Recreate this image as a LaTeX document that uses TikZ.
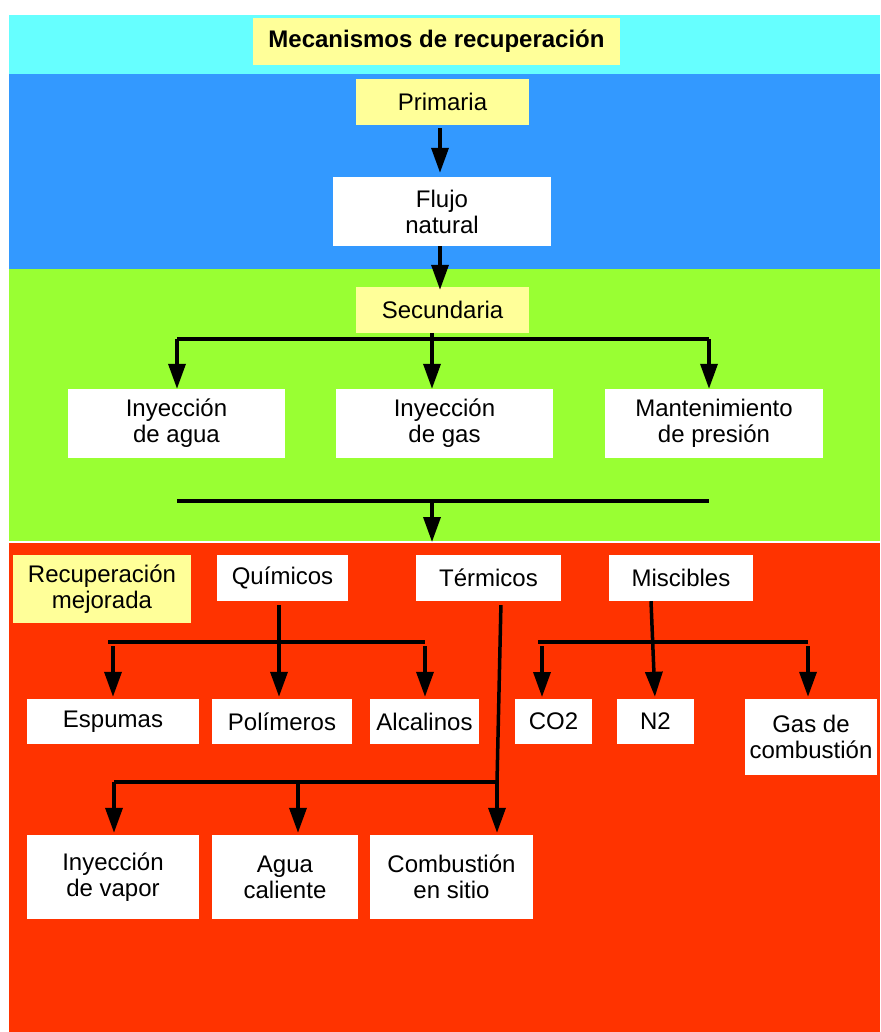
\documentclass[tikz,border=0pt]{standalone}
\usepackage{fontspec}
\setmainfont{Liberation Sans}
\usetikzlibrary{arrows.meta}
\definecolor{bandcyan}{HTML}{66FFFF}
\definecolor{bandblue}{HTML}{3399FF}
\definecolor{bandgreen}{HTML}{99FF33}
\definecolor{bandred}{HTML}{FF3300}
\definecolor{tagyellow}{HTML}{FFFF99}
\begin{document}
\begin{tikzpicture}[x=1pt,y=-1pt,
  box/.style={fill=white, inner sep=0pt, align=center,
    font=\fontsize{24}{26}\selectfont},
  tag/.style={box, fill=tagyellow},
  arr/.style={line width=3.5pt, -{Triangle[length=25pt,width=17pt]}},
  bar/.style={line width=3.5pt}]
% page and colour bands
\fill[white] (0,0) rectangle (880,1032);
\useasboundingbox (0,0) rectangle (880,1032);
\fill[bandcyan]  (9,15)  rectangle (880,74);
\fill[bandblue]  (9,74)  rectangle (880,268.5);
\fill[bandgreen] (9,268.5) rectangle (880,541);
\fill[bandred]   (9,543) rectangle (880,1032);

% title and primary recovery
\node[tag, minimum width=367, minimum height=47, font=\fontsize{24}{26}\selectfont\bfseries]
  (title) at (436.5,41.5) {Mecanismos de recuperación};
\node[tag, minimum width=173, minimum height=46] (prim) at (442.5,102) {Primaria};
\node[box, minimum width=218, minimum height=69] (flujo) at (442,211.5) {Flujo\\natural};

% secondary recovery
\node[tag, minimum width=173, minimum height=46] (sec) at (442.5,310) {Secundaria};
\node[box, minimum width=217, minimum height=69] (agua) at (176.5,423.5) {Inyección\\de agua};
\node[box, minimum width=217, minimum height=69] (gas)  at (444.5,423.5) {Inyección\\de gas};
\node[box, minimum width=218, minimum height=69] (mant) at (714,423.5) {Mantenimiento\\de presión};

% enhanced recovery
\node[tag, minimum width=178, minimum height=68] (rmej) at (102,589) {Recuperación\\mejorada};
\node[box, minimum width=131, minimum height=46] (quim) at (282.5,578) {Químicos};
\node[box, minimum width=145, minimum height=46] (term) at (488.5,578) {Térmicos};
\node[box, minimum width=144, minimum height=46] (misc) at (681,578) {Miscibles};

\node[box, minimum width=172, minimum height=45] (esp) at (113,721.5) {Espumas};
\node[box, minimum width=140, minimum height=45] (pol) at (282,721.5) {Polímeros};
\node[box, minimum width=109, minimum height=45] (alc) at (424.5,721.5) {Alcalinos};
\node[box, minimum width=77, minimum height=45] (co2) at (553.5,721.5) {CO2};
\node[box, minimum width=77, minimum height=45] (n2)  at (655.5,721.5) {N2};
\node[box, minimum width=132, minimum height=76] (gasc) at (811,737) {Gas de\\combustión};

\node[box, minimum width=172, minimum height=84] (vap)  at (113,877) {Inyección\\de vapor};
\node[box, minimum width=146, minimum height=84] (acal) at (285,877) {Agua\\caliente};
\node[box, minimum width=163, minimum height=84] (comb) at (451.5,877) {Combustión\\en sitio};

% primary chain
\draw[arr, shorten <=3pt, shorten >=4pt] ([xshift=-2.5pt]prim.south) -- ([xshift=-2pt]flujo.north);
\draw[arr] ([xshift=-2pt]flujo.south) -- ([xshift=-2.5pt,yshift=-3pt]sec.north);

% secondary branches
\coordinate (sL) at (177,339);
\coordinate (sM) at (432,339);
\coordinate (sR) at (709,339);
\draw[bar] (sL) -- (sR);
\draw[bar] (sec.south -| sM) -- (sM);
\draw[arr] (sL) -- (sL |- agua.north);
\draw[arr] (sM) -- (sM |- gas.north);
\draw[arr] (sR) -- (sR |- mant.north);

% merge into enhanced recovery
\coordinate (mL) at (177,501);
\coordinate (mM) at (432,499.5);
\coordinate (mR) at (709,501);
\coordinate (redTop) at (432,542);
\draw[bar] (mL) -- (mR);
\draw[arr] (mM) -- (redTop);

% chemical methods
\coordinate (qL) at (108,642);
\coordinate (qR) at (425,642);
\coordinate (qM) at (279,642);
\draw[bar] (qL) -- (qR);
\draw[arr, shorten <=4pt, shorten >=2pt] (quim.south -| qM) -- (qM |- pol.north);
\draw[arr, shorten <=4pt, shorten >=2pt] (113,642) -- (esp.north);
\draw[arr, shorten <=4pt, shorten >=2pt] (qR) -- (qR |- alc.north);

% miscible methods
\coordinate (xL) at (538,642);
\coordinate (xR) at (808,642);
\draw[bar] (xL) -- (xR);
\draw[arr, shorten >=2pt] ([xshift=-30pt]misc.south) -- ([xshift=-0.5pt]n2.north);
\draw[arr, shorten <=4pt, shorten >=2pt] (542,642) -- (542,699);
\draw[arr, shorten <=4pt, shorten >=2pt] (xR) -- (xR |- gasc.north);

% thermal methods
\coordinate (tJ) at (497,782);
\coordinate (tL) at (114,782);
\coordinate (tM) at (298,782);
\draw[bar, shorten <=4pt] ([xshift=12.5pt]term.south) -- (tJ);
\draw[bar] (tL) -- (tJ);
\draw[arr, shorten >=2pt] (tL) -- (tL |- vap.north);
\draw[arr, shorten >=2pt] (tM) -- (tM |- acal.north);
\draw[arr, shorten >=2pt] (tJ) -- (tJ |- comb.north);
\end{tikzpicture}
\end{document}
